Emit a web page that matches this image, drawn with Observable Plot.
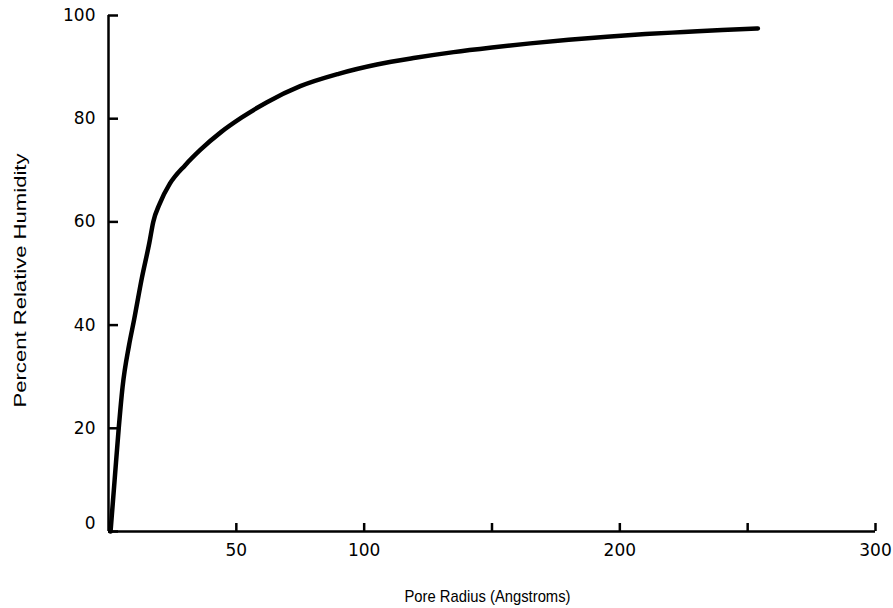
<!DOCTYPE html>
<html>
<head>
<meta charset="utf-8">
<script src="https://cdn.jsdelivr.net/npm/d3@7"></script>
<script src="https://cdn.jsdelivr.net/npm/@observablehq/plot@0.6"></script>
<style>
  html, body { margin: 0; padding: 0; background: #fff; }
</style>
</head>
<body>
<div id="chart"></div>
<script>
// Pore radius (Angstroms)
const radius   = [0.8, 2.4, 4, 5.5, 8, 10, 13, 16, 17.5, 20, 24, 30, 36, 44, 52, 62, 75, 90, 105, 120, 135, 150, 165, 180, 195, 210, 225, 240, 254];
// Percent relative humidity
const humidity = [0, 10, 20, 28, 36, 41, 49, 56, 60, 63.5, 67.4, 71, 74, 77.4, 80.2, 83.2, 86.3, 88.7, 90.5, 91.8, 92.9, 93.8, 94.6, 95.3, 95.9, 96.4, 96.8, 97.2, 97.5];

const xTicks  = [50, 100, 150, 200, 250, 300];
const xLabels = [50, 100, 200, 300];
const yTicks  = [0, 20, 40, 60, 80, 100];
const yLabelsUpper = [20, 40, 60, 80, 100];
const yLabelZero = [0];
const xTitle = "Pore Radius (Angstroms)";
const yTitle = "Percent Relative Humidity";

const data = radius.map((r, i) => ({r, h: humidity[i]}));

const tickFont = "'DejaVu Sans', Verdana, sans-serif";

const chart = Plot.plot({
  width: 893,
  height: 608,
  marginLeft: 108,
  marginRight: 18,
  marginTop: 15,
  marginBottom: 77,
  x: {domain: [0, 300]},
  y: {domain: [0, 100]},
  style: {fontFamily: "'Liberation Sans', Arial, Helvetica, sans-serif", color: "#000", background: "#fff"},
  marks: [
    Plot.ruleY([0], {stroke: "#000", strokeWidth: 2.5}),
    Plot.ruleX([0], {stroke: "#000", strokeWidth: 2.5}),
    Plot.axisX(xTicks, {tickSize: -8, strokeWidth: 2.5, text: null, label: null}),
    Plot.axisX(xLabels, {tickSize: 0, tickPadding: 12, fontSize: 17, fontFamily: tickFont, label: null}),
    Plot.axisY(yTicks, {tickSize: -10, strokeWidth: 2.5, text: null, label: null}),
    Plot.axisY(yLabelsUpper, {tickSize: 0, tickPadding: 13, fontSize: 17, fontFamily: tickFont, label: null}),
    Plot.axisY(yLabelZero, {tickSize: 0, tickPadding: 13, dy: -8, fontSize: 17, fontFamily: tickFont, label: null}),
    Plot.text([xTitle], {frameAnchor: "bottom-left", dx: 296, dy: 65, fontSize: 17, textAnchor: "start", lineAnchor: "middle"}),
    Plot.text([yTitle], {frameAnchor: "left", dx: -88, dy: 134, rotate: -90, fontSize: 17, textAnchor: "start", lineAnchor: "middle"}),
    Plot.line(data, {x: "r", y: "h", stroke: "#000", strokeWidth: 4.5, curve: "monotone-x", strokeLinecap: "round"})
  ]
});

// Match the reference's lettering proportions (scan is stretched vertically)
d3.select(chart).selectAll("text").each(function() {
  const t = this.textContent;
  if (t === xTitle) { this.setAttribute("textLength", 166); this.setAttribute("lengthAdjust", "spacingAndGlyphs"); }
  if (t === yTitle) { this.setAttribute("textLength", 254); this.setAttribute("lengthAdjust", "spacingAndGlyphs"); }
});

document.getElementById("chart").appendChild(chart);
</script>
</body>
</html>
